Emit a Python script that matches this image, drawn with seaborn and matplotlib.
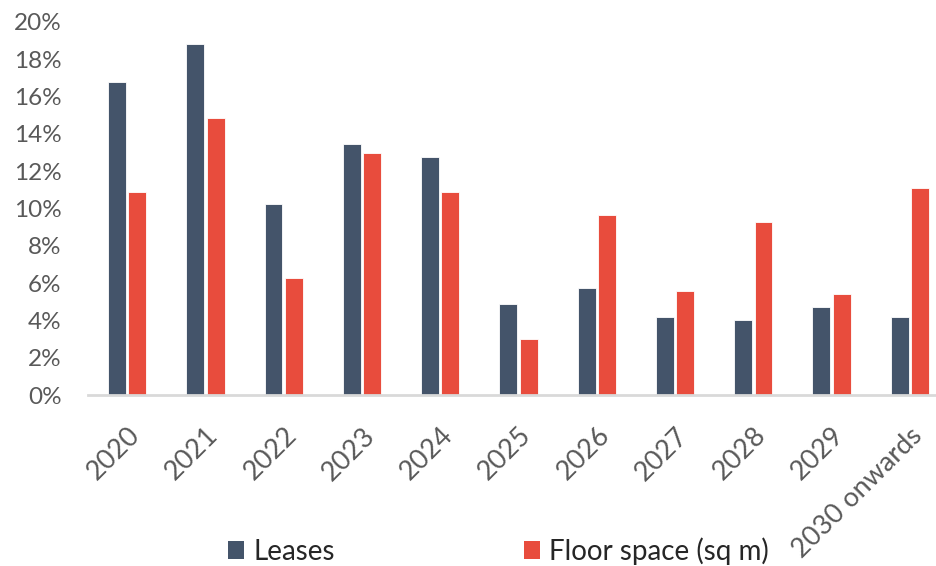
import matplotlib
matplotlib.use("Agg")
import matplotlib.pyplot as plt
import seaborn as sns
import pandas as pd
from matplotlib.ticker import FuncFormatter, MultipleLocator
from matplotlib.patches import Patch

# Share of expiring leases and floor space by year
years = ["2020", "2021", "2022", "2023", "2024", "2025", "2026", "2027",
         "2028", "2029", "2030 onwards"]
leases = [16.8, 18.8, 10.25, 13.45, 12.75, 4.9, 5.75, 4.2, 4.0, 4.7, 4.2]
floor_space = [10.9, 14.85, 6.25, 12.95, 10.9, 3.0, 9.65, 5.6, 9.3, 5.4, 11.1]
series_names = ["Leases", "Floor space (sq m)"]
colors = ["#44546A", "#E84C3D"]

df = pd.DataFrame({
    "year": years * 2,
    "value": leases + floor_space,
    "series": [series_names[0]] * len(years) + [series_names[1]] * len(years),
})

sns.set_theme(style="white")
plt.rcParams["font.family"] = ["Lato", "DejaVu Sans"]

fig = plt.figure(figsize=(9.37, 5.66), dpi=100)
ax = fig.add_axes([88 / 937, 1 - 395 / 566, (949 - 88) / 937, (395 - 22) / 566])

sns.barplot(data=df, x="year", y="value", hue="series", palette=colors,
            saturation=1, width=0.52, gap=0.12, ax=ax, legend=False,
            edgecolor="white", linewidth=0.6)

ax.set_ylim(0, 20)
ax.set_xlim(-0.5, 10.5)
ax.yaxis.set_major_locator(MultipleLocator(2))
ax.yaxis.set_major_formatter(FuncFormatter(lambda v, _: f"{v:.0f}%"))
ax.set_xlabel("")
ax.set_ylabel("")

for side in ["top", "right", "left"]:
    ax.spines[side].set_visible(False)
ax.spines["bottom"].set_color("#D9D9D9")
ax.spines["bottom"].set_linewidth(2)

ax.tick_params(axis="y", length=0, pad=19, labelsize=17.5, labelcolor="#595959")
ax.tick_params(axis="x", length=0, pad=20, labelsize=19.5, labelcolor="#595959")
for lbl in ax.get_xticklabels():
    lbl.set_rotation(45)
    lbl.set_ha("right")
    lbl.set_rotation_mode("anchor")

handles = [Patch(facecolor=c, edgecolor="none") for c in colors]
fig.legend(handles, series_names, loc="center left",
           bbox_to_anchor=(228 / 937, 1 - 551 / 566),
           ncol=2, frameon=False, fontsize=20, labelcolor="#262626",
           handlelength=0.58, handleheight=0.58, handletextpad=0.33,
           columnspacing=6.8, borderpad=0, borderaxespad=0)

fig.savefig("out.png", dpi=100)
